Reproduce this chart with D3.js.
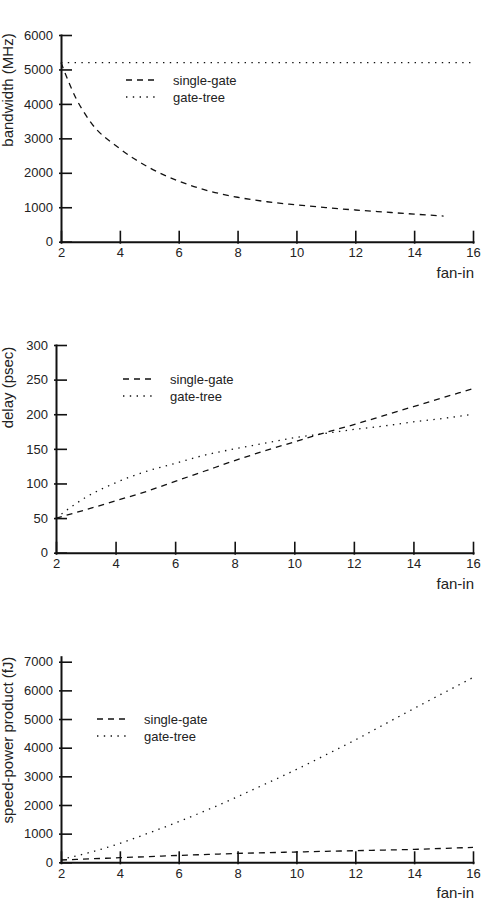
<!DOCTYPE html>
<html>
<head>
<meta charset="utf-8">
<script src="https://cdn.jsdelivr.net/npm/d3@7"></script>
<style>
  body { margin: 0; background: #fff; }
  svg { display: block; font-family: "Liberation Sans", Arial, sans-serif; }
  .axis path, .axis line { stroke: #111; }
  .axis text { fill: #222; font-size: 13px; }
  .label { fill: #222; font-size: 15px; }
  .legend text { fill: #222; font-size: 13px; }
  .curve { fill: none; stroke: #111; stroke-width: 1.3; }
</style>
</head>
<body>
<script>
// fan-in tick labels shared by all three panels
var fanInTicks = [2, 4, 6, 8, 10, 12, 14, 16];

// bandwidth (MHz)
var bwFanIn = [2, 2.5, 3, 4, 5, 6, 7, 8, 9, 10, 11, 12, 13, 14, 15];
var bwSingle = [5200, 4180, 3480, 2700, 2150, 1760, 1480, 1290, 1160, 1070, 990, 920, 860, 800, 745];
var bwTreeFanIn = [2, 16];
var bwTree = [5200, 5200];
var bwTicks = [0, 1000, 2000, 3000, 4000, 5000, 6000];

// delay (psec)
var delayFanIn = [2, 3, 4, 5, 6, 7, 8, 9, 10, 11, 12, 13, 14, 15, 16];
var delaySingle = [50, 62, 75, 88, 103, 118, 133, 147, 160, 173, 185, 198, 211, 224, 237];
var delayTree = [50, 80, 101, 117, 129, 141, 150, 158, 166, 172, 178, 183, 189, 194, 200];
var delayTicks = [0, 50, 100, 150, 200, 250, 300];

// speed-power product (fJ)
var sppFanIn = [2, 3, 4, 5, 6, 7, 8, 9, 10, 11, 12, 13, 14, 15, 16];
var sppSingle = [80, 120, 160, 200, 240, 275, 310, 335, 360, 383, 405, 428, 450, 485, 520];
var sppTree = [100, 350, 660, 1030, 1420, 1840, 2290, 2760, 3240, 3750, 4270, 4820, 5370, 5910, 6450];
var sppTicks = [0, 1000, 2000, 3000, 4000, 5000, 6000, 7000];

var legendNames = ['single-gate', 'gate-tree'];

var DASH = '6,5';
var DOT = '1.4,5.4';

var svg = d3.select('body').append('svg')
  .attr('width', 482)
  .attr('height', 922);

function zip(xs, ys) {
  return xs.map(function(x, i) { return { x: x, y: ys[i] }; });
}

function drawPanel(cfg) {
  var x = d3.scaleLinear().domain([2, 16]).range([cfg.left, cfg.right]);
  var y = d3.scaleLinear().domain([0, cfg.yMax]).range([cfg.bottom, cfg.top]);

  var g = svg.append('g');

  var line = d3.line()
    .x(function(d) { return x(d.x); })
    .y(function(d) { return y(d.y); })
    .curve(d3.curveMonotoneX);

  cfg.series.forEach(function(s) {
    g.append('path')
      .attr('class', 'curve')
      .attr('stroke-dasharray', s.dash)
      .attr('d', line(s.data));
  });

  // Axes: ticks point inward, with a short stub outside.
  var yAxis = d3.axisLeft(y)
    .tickValues(cfg.yTicks)
    .tickFormat(d3.format('d'))
    .tickSizeInner(-11)
    .tickSizeOuter(0)
    .tickPadding(8);

  var xAxis = d3.axisBottom(x)
    .tickValues(fanInTicks)
    .tickFormat(d3.format('d'))
    .tickSizeInner(-11)
    .tickSizeOuter(0)
    .tickPadding(6);

  var ya = g.append('g')
    .attr('class', 'axis')
    .attr('transform', 'translate(' + cfg.left + ',0)')
    .call(yAxis);
  ya.selectAll('.tick line').attr('x1', -2).attr('stroke-width', 1.6);
  ya.select('.domain').attr('stroke-width', 2).attr('stroke-linecap', 'square');

  var xa = g.append('g')
    .attr('class', 'axis')
    .attr('transform', 'translate(0,' + cfg.bottom + ')')
    .call(xAxis);
  xa.selectAll('.tick line').attr('y1', 2).attr('stroke-width', 1.6);
  xa.select('.domain').attr('stroke-width', 2).attr('stroke-linecap', 'square');

  // let the stylesheet set the axis fonts
  ya.attr('font-family', null).attr('font-size', null);
  xa.attr('font-family', null).attr('font-size', null);

  // Axis titles
  g.append('text')
    .attr('class', 'label')
    .attr('transform', 'translate(13,' + cfg.yLabelMid + ') rotate(-90)')
    .attr('text-anchor', 'middle')
    .text(cfg.yLabel);

  g.append('text')
    .attr('class', 'label')
    .attr('x', 474)
    .attr('y', cfg.bottom + 36)
    .attr('text-anchor', 'end')
    .text('fan-in');

  // Legend
  var lg = g.append('g').attr('class', 'legend');
  cfg.series.forEach(function(s, i) {
    var ly = cfg.legendY + i * 17;
    lg.append('line')
      .attr('class', 'curve')
      .attr('x1', cfg.legendX)
      .attr('x2', cfg.legendX + 29)
      .attr('y1', ly)
      .attr('y2', ly)
      .attr('stroke-dasharray', s.dash);
    lg.append('text')
      .attr('x', cfg.legendX + 47)
      .attr('y', ly)
      .attr('dy', '0.35em')
      .text(legendNames[i]);
  });
}

drawPanel({
  left: 61, right: 473, top: 35, bottom: 241.7, yMax: 6000,
  yTicks: bwTicks,
  yLabel: 'bandwidth (MHz)', yLabelMid: 90,
  legendX: 126, legendY: 80,
  series: [
    { data: zip(bwFanIn, bwSingle), dash: DASH },
    { data: zip(bwTreeFanIn, bwTree), dash: DOT }
  ]
});

drawPanel({
  left: 56, right: 473, top: 345, bottom: 552.7, yMax: 300,
  yTicks: delayTicks,
  yLabel: 'delay (psec)', yLabelMid: 387.5,
  legendX: 123, legendY: 379,
  series: [
    { data: zip(delayFanIn, delaySingle), dash: DASH },
    { data: zip(delayFanIn, delayTree), dash: DOT }
  ]
});

drawPanel({
  left: 61, right: 473, top: 656.7, bottom: 862.3, yMax: 7175,
  yTicks: sppTicks,
  yLabel: 'speed-power product (fJ)', yLabelMid: 740,
  legendX: 97, legendY: 719,
  series: [
    { data: zip(sppFanIn, sppSingle), dash: DASH },
    { data: zip(sppFanIn, sppTree), dash: DOT }
  ]
});
</script>
</body>
</html>
